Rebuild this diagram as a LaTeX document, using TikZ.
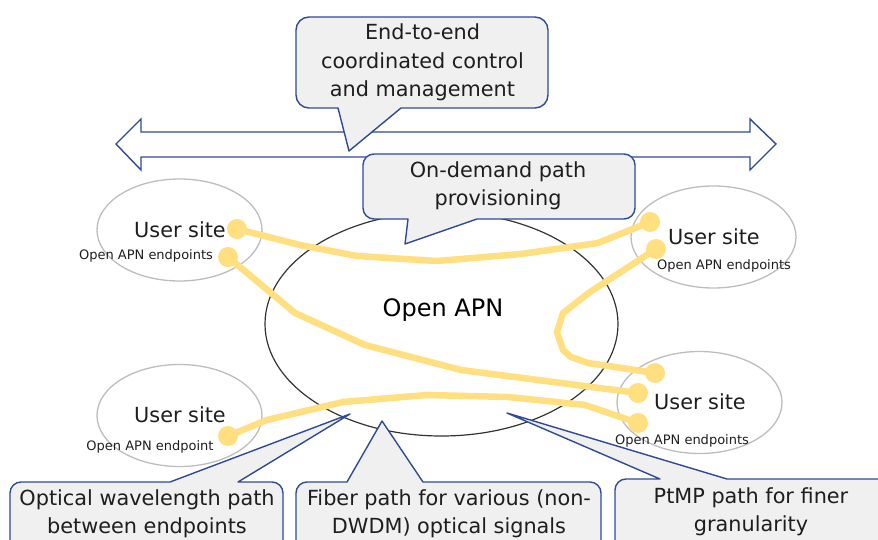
\documentclass[tikz,border=0pt]{standalone}
\usepackage{fontspec}
\setmainfont{DejaVu Sans}
\definecolor{calloutblue}{HTML}{2F4A96}
\definecolor{calloutfill}{HTML}{F0F0F0}
\definecolor{pathyellow}{HTML}{FFDF7F}
\definecolor{sitegrey}{HTML}{BDBDBD}
\definecolor{inktext}{HTML}{1E1E1E}
\tikzset{
  calloutshape/.style={draw=calloutblue,fill=calloutfill,line width=1.4pt,line join=round},
  bigarrow/.style={draw=calloutblue,fill=white,line width=1.4pt,line join=miter},
  sitering/.style={ellipse,draw=sitegrey,line width=1.3pt,inner sep=0pt,minimum width=165pt,minimum height=102pt},
  apnring/.style={ellipse,draw=black!80,line width=1.2pt,inner sep=0pt,minimum width=353pt,minimum height=224pt},
  fibre/.style={draw=pathyellow,line width=6.5pt,line join=round,line cap=round},
  enddot/.style={circle,fill=pathyellow,inner sep=0pt,minimum size=20pt},
  calltext/.style={text=inktext,align=center,inner sep=0pt,font=\fontsize{20.8}{28.4}\selectfont},
  sitetext/.style={text=inktext,inner sep=0pt,font=\fontsize{20.8}{25}\selectfont},
  smalltext/.style={text=inktext,inner sep=0pt,font=\fontsize{13}{16}\selectfont},
  apntext/.style={text=black,inner sep=0pt,font=\fontsize{24}{29}\selectfont},
}
\usetikzlibrary{shapes.geometric}
\begin{document}
\begin{tikzpicture}[x=1pt,y=-1pt]
\useasboundingbox (0,0) rectangle (878,540);
\clip (0,0) rectangle (878,540);

% wide double arrow
\draw[bigarrow] (116,144) -- (141,119) -- (141,132) -- (750,132) -- (750,119) -- (776,144)
  -- (750,170) -- (750,157) -- (141,157) -- (141,170) -- cycle;

% rings
\node[apnring] (apn) at (441.5,324) {};
\node[sitering] (siteTL) at (179.5,230) {};
\node[sitering] (siteTR) at (713.5,237) {};
\node[sitering] (siteBL) at (179.5,415.5) {};
\node[sitering] (siteBR) at (699.5,402.5) {};

% end points
\node[enddot] (a1) at (237,229) {};
\node[enddot] (a2) at (650,222) {};
\node[enddot] (b1) at (228,257) {};
\node[enddot] (b2) at (638,393) {};
\node[enddot] (c1) at (656,249) {};
\node[enddot] (c2) at (655,373) {};
\node[enddot] (d1) at (228,436) {};
\node[enddot] (d2) at (638,423) {};

% paths
\draw[fibre] (a1.center) -- (300,245) -- (357,256) -- (437,261) -- (521,254) -- (598,243) -- (a2.center);
\draw[fibre] (b1.center) -- (295,313) -- (365,345) -- (461,370) -- (b2.center);
\draw[fibre] (c1.center) -- (590,292) -- (563,313) -- (557,332) -- (563,350) -- (571,357) -- (588,363) -- (c2.center);
\draw[fibre] (d1.center) -- (267,420) -- (343,402) -- (427,395) -- (508,397) -- (585,405) -- (d2.center);

% callouts
\path[calloutshape] (338,108) -- (349,151) -- (401,108) [rounded corners=13pt] -- (548,108) -- (548,17) -- (296,17) -- (296,108) [sharp corners] -- cycle;
\node[calltext] (t1) at (422.5,62.5) {End-to-end\\coordinated control\\and management};

\path[calloutshape] (408,219) -- (405,244) -- (477,219) [rounded corners=11pt] -- (635,219) -- (635,154) -- (363,154) -- (363,219) [sharp corners] -- cycle;
\node[calltext] (t2) at (498,186) {On-demand path\\provisioning};

\path[calloutshape] (170,482) -- (350,414) -- (238,482) [rounded corners=11pt] -- (283,482) -- (283,570) -- (10,570) -- (10,482) [sharp corners] -- cycle;
\node[calltext] (t3) at (147,513.5) {Optical wavelength path\\between endpoints};

\path[calloutshape] (347,482) -- (382,421) -- (423,482) [rounded corners=11pt] -- (601,482) -- (601,570) -- (296,570) -- (296,482) [sharp corners] -- cycle;
\node[calltext] (t4) at (449,514) {Fiber path for various (non-\\DWDM) optical signals};

\path[calloutshape] (660,479) -- (507,413) -- (727,479) [rounded corners=11pt] -- (900,479) -- (900,570) -- (615,570) -- (615,479) [sharp corners] -- cycle;
\node[calltext] (t5) at (751,512) {PtMP path for finer\\granularity};

% labels
\node[apntext] (apnlabel) at (443,310) {Open APN};
\node[sitetext] (s1) at (180,230) {User site};
\node[sitetext] (s2) at (714,237) {User site};
\node[sitetext] (s3) at (180,415) {User site};
\node[sitetext] (s4) at (700,402) {User site};
\node[smalltext] (e1) at (146,255.5) {Open APN endpoints};
\node[smalltext] (e2) at (724,265.5) {Open APN endpoints};
\node[smalltext] (e3) at (150,446.5) {Open APN endpoint};
\node[smalltext] (e4) at (682,440.5) {Open APN endpoints};
\end{tikzpicture}
\end{document}
